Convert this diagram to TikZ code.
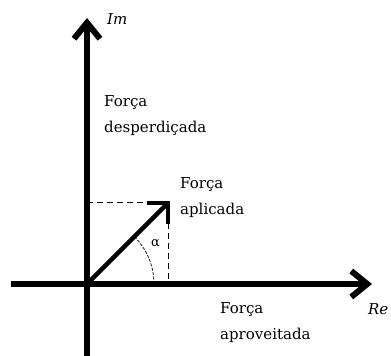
\documentclass[tikz,border=0pt]{standalone}
\usepackage{fontspec}
\setmainfont{DejaVu Serif}
\usepackage{tikz}
\usetikzlibrary{arrows.meta,calc}

\tikzset{
  axis/.style={line width=6pt, -{Straight Barb[length=16pt, width=26pt, line width=6pt]}},
  vec/.style={line width=4.5pt, line join=miter},
  guide/.style={line width=1pt, dash pattern=on 6pt off 4pt},
  lbl/.style={anchor=base west, align=left, inner sep=0pt, font=\fontsize{15}{26.5}\selectfont}
}

\begin{document}
\begin{tikzpicture}[x=1pt, y=1pt]
  \useasboundingbox (0,0) rectangle (391,356);
  % ---- axes ----
  \coordinate (o) at (87,72);
  \coordinate (imtip) at (87,338);
  \coordinate (imend) at (87,0);
  \coordinate (reend) at (11,72);
  \coordinate (retip) at (372,72);
  \draw[axis] (imend) -- (imtip);
  \draw[axis] (reend) -- (retip);
  % ---- applied force and its projections ----
  \coordinate (p) at (168,153);
  \draw[guide] (o |- p) -- (p);
  \draw[guide] ($(p)+(0,-10)$) -- (p |- o);
  \draw[vec] (o) -- (p);
  \draw[vec] ($(p)+(-21,0)$) -- (p) -- ($(p)+(0,-21)$);
  \draw[line width=0.7pt, dash pattern=on 3pt off 1.5pt] ($(o)+(67,0)$) arc[start angle=0, end angle=45, radius=67];
  % ---- labels (anchored at the last line's baseline) ----
  \node[lbl, font=\fontsize{15}{17}\selectfont\itshape] (im) at (107,331) {Im};
  \node[lbl, font=\fontsize{15}{17}\selectfont\itshape] (re) at (368,41) {Re};
  \node[lbl] (wasted) at (104,223) {Força\\desperdiçada};
  \node[lbl] (applied) at (180,141) {Força\\aplicada};
  \node[lbl] (used) at (220,16) {Força\\aproveitada};
  \node[lbl, font=\fontsize{13}{15}\selectfont] (alpha) at (151,109) {α};
\end{tikzpicture}
\end{document}
